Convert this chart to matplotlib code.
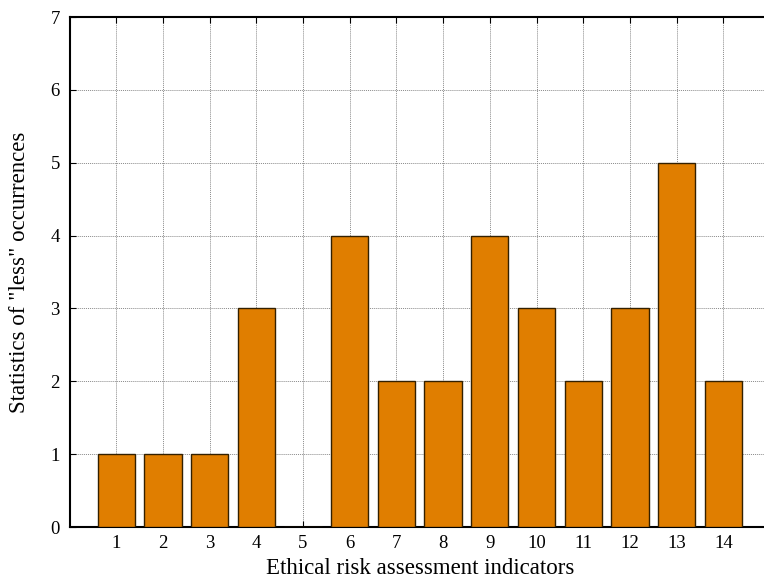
import matplotlib
matplotlib.use("Agg")
import matplotlib.pyplot as plt

indicators = list(range(1, 15))
counts = [1, 1, 1, 3, 0, 4, 2, 2, 4, 3, 2, 3, 5, 2]
yticks = list(range(0, 8))

plt.rcParams['font.family'] = ['Liberation Serif', 'DejaVu Serif']
fig = plt.figure(figsize=(7.64, 5.81), dpi=100)
W, H = 764, 581
left, right, top, bottom = 69.5, 770, 17, 527
ax = fig.add_axes([left / W, 1 - bottom / H, (right - left) / W, (bottom - top) / H])

ax.bar(indicators, counts, width=0.8, color='#E07E00', edgecolor='#332000', linewidth=1.0, zorder=3)
ax.set_xlim(0, 15)
ax.set_ylim(0, 7)
ax.set_xticks(indicators)
ax.set_yticks(yticks)
ax.grid(True, color='#8a8a8a', linestyle=(0, (1, 1)), linewidth=0.7, zorder=0)
ax.tick_params(direction='in', top=True, right=True, labelsize=13.5, length=4, width=0.8)
ax.tick_params(axis='x', pad=6)
ax.tick_params(axis='y', pad=7)
for s in ax.spines.values():
    s.set_linewidth(1.5)
ax.set_xlabel('Ethical risk assessment indicators', fontsize=16.5, labelpad=4)
ax.set_ylabel('Statistics of "less" occurrences', fontsize=16.5, labelpad=15)
fig.savefig('out.png', dpi=100)
